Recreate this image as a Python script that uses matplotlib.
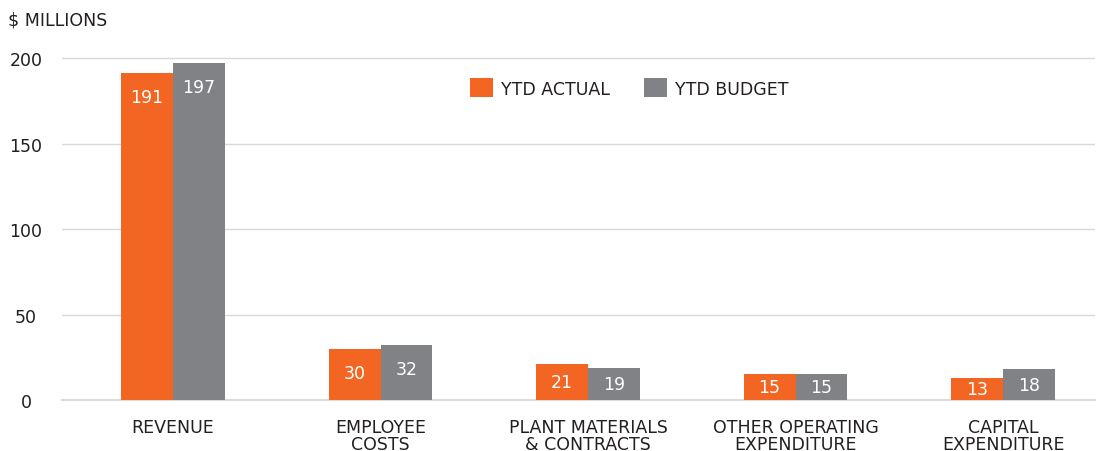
import matplotlib
matplotlib.use("Agg")
import matplotlib.pyplot as plt
import numpy as np

categories = ["REVENUE", "EMPLOYEE\nCOSTS", "PLANT MATERIALS\n& CONTRACTS",
              "OTHER OPERATING\nEXPENDITURE", "CAPITAL\nEXPENDITURE"]
ytd_actual = [191, 30, 21, 15, 13]
ytd_budget = [197, 32, 19, 15, 18]
series_names = ["YTD ACTUAL", "YTD BUDGET"]
yticks = [0, 50, 100, 150, 200]

ORANGE = "#F26522"
GREY = "#808285"
TEXT = "#231F20"

plt.rcParams['font.family'] = ['DejaVu Sans']

fig = plt.figure(figsize=(10.96, 4.52), dpi=100)
ax = fig.add_axes([62/1096, 51/452, (1095-62)/1096, 359/452])

x = np.arange(len(categories))
w = 0.25
b1 = ax.bar(x - w/2, ytd_actual, w, color=ORANGE, label=series_names[0], zorder=3)
b2 = ax.bar(x + w/2, ytd_budget, w, color=GREY, label=series_names[1], zorder=3)

for bars, vals in ((b1, ytd_actual), (b2, ytd_budget)):
    for r, v in zip(bars, vals):
        ypos = max(v - 14, v / 2)
        ax.text(r.get_x() + r.get_width()/2, ypos, str(v), ha='center', va='center',
                color='white', fontsize=12.5, zorder=4)

ax.set_xlim(-0.535, 4.443)
ax.set_ylim(0, 210)
ax.set_yticks(yticks)
ax.set_yticklabels([str(t) for t in yticks])
ax.set_xticks(x)
ax.set_xticklabels(categories, linespacing=0.9)
for lab in ax.get_yticklabels():
    lab.set_horizontalalignment('center')
ax.tick_params(axis='y', length=0, pad=26, labelsize=12.5, labelcolor=TEXT)
ax.tick_params(axis='x', length=0, pad=13, labelsize=12.5, labelcolor=TEXT)

ax.grid(axis='y', color='#d9d9d9', linewidth=1, zorder=0)
for s in ['top', 'right', 'left']:
    ax.spines[s].set_visible(False)
ax.spines['bottom'].set_color('#dcdcdc')
ax.spines['bottom'].set_linewidth(1.6)
ax.spines['bottom'].set_zorder(2)

fig.text(8/1096, 1 - 20/452, "$ MILLIONS", ha='left', va='center', fontsize=12.5,
         color=TEXT)

leg = ax.legend(handles=[b1, b2], loc='center left',
                bbox_to_anchor=(470/1096, 1 - 89/452), bbox_transform=fig.transFigure,
                ncol=2, frameon=False, fontsize=12.5, handlelength=1.32, handleheight=1.32,
                handletextpad=0.45, columnspacing=2.0, borderpad=0, borderaxespad=0)
for t in leg.get_texts():
    t.set_color(TEXT)

fig.savefig("out.png", dpi=100)
